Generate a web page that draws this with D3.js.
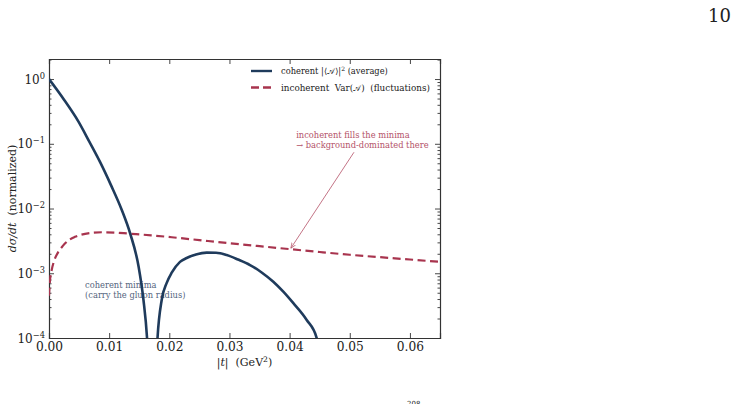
<!DOCTYPE html>
<html>
<head>
<meta charset="utf-8">
<script src="https://cdn.jsdelivr.net/npm/d3@7"></script>
<style>
  body { margin: 0; background: #fff; }
  svg { display: block; }
  svg text { font-family: "DejaVu Serif", "Liberation Serif", serif; }
</style>
</head>
<body>
<svg id="chart" width="737" height="404"></svg>
<script>
// |t| in GeV^2 and normalized dσ/dt
const cohT = [0, 0.0025, 0.0049, 0.0067, 0.0085, 0.0103, 0.0121, 0.0135, 0.0149, 0.0157, 0.0163, 0.0172,
              0.01804, 0.01874, 0.01957, 0.0204, 0.02178, 0.02289, 0.02444, 0.02622, 0.02777, 0.02954, 0.03142,
              0.03342, 0.03541, 0.03729, 0.03895, 0.04062, 0.04284, 0.0445, 0.0460];
const cohVal = [1.0, 0.48, 0.22, 0.108, 0.052, 0.023, 0.0095, 0.0041, 0.00126, 0.00039, 0.0001, 0.000001,
                0.0001, 0.00039, 0.00071, 0.00102, 0.00150, 0.00172, 0.00195, 0.00208, 0.00207, 0.00191, 0.00163,
                0.00134, 0.00102, 0.00074, 0.00052, 0.000345, 0.00019, 0.0001, 0.000005];

const incT = [0, 0.00015, 0.00045, 0.0009, 0.0015, 0.0023, 0.0032, 0.0043, 0.0054, 0.0070, 0.0088,
              0.0110, 0.0132, 0.0170, 0.0204, 0.0250, 0.0302, 0.0350, 0.0402, 0.0450, 0.0500, 0.0575, 0.0650];
const incVal = [0.00045, 0.00075, 0.00112, 0.00160, 0.00210, 0.00265, 0.00320, 0.00365, 0.00395, 0.00420, 0.00430,
                0.00425, 0.00410, 0.00385, 0.00360, 0.00325, 0.00290, 0.00262, 0.00235, 0.00213, 0.00193, 0.00170, 0.00150];

const xTicks = [0, 0.01, 0.02, 0.03, 0.04, 0.05, 0.06];
const xTickLabels = ["0.00", "0.01", "0.02", "0.03", "0.04", "0.05", "0.06"];
const yTicks = [1, 0.1, 0.01, 0.001, 0.0001];
const yTickExps = ["0", "\u22121", "\u22122", "\u22123", "\u22124"];

const navy = "#1f3b5c";
const wine = "#a8344e";
const serif = "'DejaVu Serif', 'Liberation Serif', serif";

const svg = d3.select("#chart");
const margin = { top: 59, right: 297, bottom: 66, left: 49 };
const W = 737 - margin.left - margin.right;
const H = 404 - margin.top - margin.bottom;

const x = d3.scaleLinear().domain([0, 0.065]).range([0, W]);
const y = d3.scaleLog().domain([1e-4, 2.04]).range([H, 0]);

const g = svg.append("g").attr("transform", `translate(${margin.left},${margin.top})`);

const defs = svg.append("defs");
defs.append("clipPath").attr("id", "plotclip")
  .append("rect").attr("width", W).attr("height", H);

// minor log ticks
const minor = [];
for (let e = -4; e <= 0; e++) for (let k = 2; k <= 9; k++) {
  const v = k * Math.pow(10, e);
  if (v <= 2.04) minor.push(v);
}

// axes: ticks inward on all four sides
const axB = d3.axisBottom(x).tickValues(xTicks).tickSize(-5).tickPadding(4)
  .tickFormat((d, i) => xTickLabels[i]);
const axT = d3.axisTop(x).tickValues(xTicks).tickSize(-5).tickFormat("");
const axL = d3.axisLeft(y).tickValues(yTicks).tickSize(-5).tickFormat("");
const axR = d3.axisRight(y).tickValues(yTicks).tickSize(-5).tickFormat("");
const axLm = d3.axisLeft(y).tickValues(minor).tickSize(-2.5).tickFormat("");
const axRm = d3.axisRight(y).tickValues(minor).tickSize(-2.5).tickFormat("");

function styleAxis(sel) {
  sel.attr("font-family", null);
  sel.select(".domain").attr("stroke", "#333").attr("stroke-width", 1.2);
  sel.selectAll(".tick line").attr("stroke", "#333").attr("stroke-width", 0.9);
  sel.selectAll("text").attr("fill", "#222").attr("font-size", 12.2)
    .style("font-family", serif);
}

g.append("g").attr("transform", `translate(0,${H})`).call(axB).call(styleAxis);
g.append("g").call(axT).call(styleAxis);
g.append("g").call(axL).call(styleAxis);
g.append("g").attr("transform", `translate(${W},0)`).call(axR).call(styleAxis);
g.append("g").call(axLm).call(styleAxis).select(".domain").remove();
g.append("g").attr("transform", `translate(${W},0)`).call(axRm).call(styleAxis).select(".domain").remove();

// y tick labels 10^n
const yl = g.append("g").attr("font-size", 12).attr("fill", "#222");
yTicks.forEach((v, i) => {
  const t = yl.append("text").attr("x", -4).attr("y", y(v) + 4.5).attr("text-anchor", "end");
  t.append("tspan").text("10");
  t.append("tspan").attr("font-size", 8.3).attr("dy", -5).text(yTickExps[i]);
});

// curves
const plot = g.append("g").attr("clip-path", "url(#plotclip)");

const cohData = cohT.map((t, i) => ({ t, v: cohVal[i] }));
const incData = incT.map((t, i) => ({ t, v: incVal[i] }));

const line = d3.line().x(d => x(d.t)).y(d => y(d.v)).curve(d3.curveMonotoneX);

plot.append("path").datum(incData).attr("d", line)
  .attr("fill", "none").attr("stroke", wine).attr("stroke-width", 2.2)
  .attr("stroke-dasharray", "8,4.5");

plot.append("path").datum(cohData).attr("d", line)
  .attr("fill", "none").attr("stroke", navy).attr("stroke-width", 2.6);

// legend
const leg = g.append("g").attr("fill", "#222");
[navy, wine].forEach((c, i) => {
  const ly = 12 + i * 16.5;
  leg.append("line").attr("x1", 202).attr("x2", 223).attr("y1", ly).attr("y2", ly)
    .attr("stroke", c).attr("stroke-width", 2.4)
    .attr("stroke-dasharray", i === 1 ? "8,4" : null);
  const t = leg.append("text").attr("x", 232).attr("y", ly + 3.2).style("white-space", "pre");
  if (i === 0) {
    t.attr("font-size", 8.3);
    t.append("tspan").text("coherent |\u27E8");
    t.append("tspan").attr("font-size", 7.6).text("\uD835\uDC9C");
    t.append("tspan").text("\u27E9|");
    t.append("tspan").attr("font-size", 6).attr("dy", -3.5).text("2");
    t.append("tspan").attr("dy", 3.5).text(" (average)");
  } else {
    t.attr("font-size", 8.8);
    t.append("tspan").text("incoherent  Var(");
    t.append("tspan").attr("font-size", 8).text("\uD835\uDC9C");
    t.append("tspan").text(")  (fluctuations)");
  }
});

// annotations
const ann = g.append("g").attr("font-size", 8.3);
ann.append("text").attr("x", x(0.0411)).attr("y", 138 - margin.top).attr("fill", wine).attr("opacity", 0.85)
  .text("incoherent fills the minima");
ann.append("text").attr("x", x(0.0411)).attr("y", 147.5 - margin.top).attr("fill", wine).attr("opacity", 0.85)
  .text("\u2192 background-dominated there");

defs.append("marker").attr("id", "ah").attr("viewBox", "0 0 10 10")
  .attr("refX", 10).attr("refY", 5).attr("markerWidth", 7).attr("markerHeight", 7).attr("orient", "auto")
  .append("path").attr("d", "M0,1 L10,5 L0,9").attr("fill", "none").attr("stroke", wine).attr("stroke-width", 1.2);

g.append("line")
  .attr("x1", x(0.0507)).attr("y1", y(0.074))
  .attr("x2", x(0.0402)).attr("y2", y(0.00243))
  .attr("stroke", wine).attr("stroke-width", 0.8).attr("opacity", 0.85)
  .attr("marker-end", "url(#ah)");

ann.append("text").attr("x", x(0.006)).attr("y", 288 - margin.top).attr("fill", navy).attr("opacity", 0.8)
  .text("coherent minima");
ann.append("text").attr("x", x(0.006)).attr("y", 297.5 - margin.top).attr("fill", navy).attr("opacity", 0.8)
  .text("(carry the gluon radius)");

// axis labels
const xl = svg.append("text").attr("x", margin.left + W / 2).attr("y", 366)
  .attr("text-anchor", "middle").attr("font-size", 11).attr("fill", "#222")
  .style("white-space", "pre");
xl.append("tspan").text("|");
xl.append("tspan").attr("font-style", "italic").text("t");
xl.append("tspan").text("|  (GeV");
xl.append("tspan").attr("font-size", 7.7).attr("dy", -4.5).text("2");
xl.append("tspan").attr("dy", 4.5).text(")");

const ylab = svg.append("text").attr("transform", `translate(16,${margin.top + H / 2}) rotate(-90)`)
  .attr("text-anchor", "middle").attr("font-size", 11).attr("fill", "#222")
  .style("white-space", "pre");
ylab.append("tspan").attr("font-style", "italic").text("d\u03C3/dt");
ylab.append("tspan").text("  (normalized)");

// page furniture
svg.append("text").attr("x", 731).attr("y", 22).attr("text-anchor", "end")
  .attr("font-size", 18).attr("fill", "#222").text("10");
svg.append("text").attr("x", 407).attr("y", 405.5)
  .attr("font-size", 7).attr("fill", "#222").text("208");
</script>
</body>
</html>
